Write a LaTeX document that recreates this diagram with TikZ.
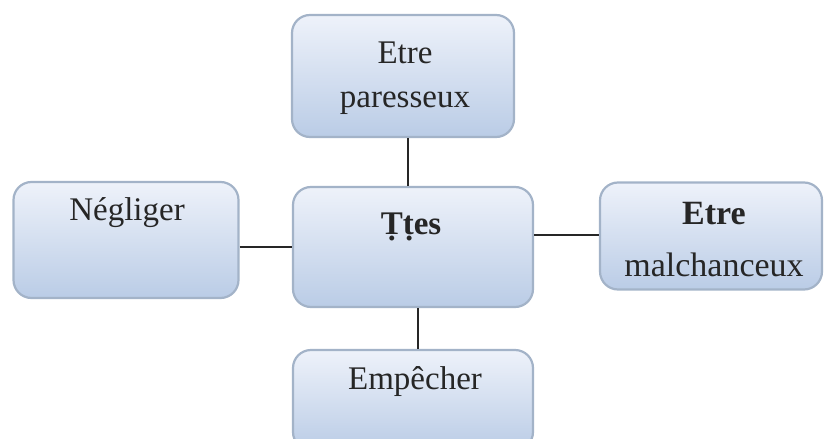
\documentclass[tikz,border=0pt]{standalone}
\usepackage{fontspec}
\setmainfont{Liberation Serif}
\begin{document}
\begin{tikzpicture}[x=1pt,y=-1pt,
  box/.style={draw=boxline, line width=2.2pt, rounded corners=18pt,
    top color=boxtop, bottom color=boxbot, shading angle=0, inner sep=0pt},
  lbl/.style={font=\fontsize{33}{40}\selectfont, align=center, text=black!85},
  conn/.style={draw=black!85, line width=1.6pt}]
\definecolor{boxline}{HTML}{A3B3C8}
\definecolor{boxtop}{HTML}{EEF2FA}
\definecolor{boxbot}{HTML}{BACCE6}
\useasboundingbox (0,0) rectangle (825,439);
\clip (0,0) rectangle (825,439);
% boxes
\node[box, minimum width=222pt, minimum height=122pt] (top) at (403,76) {};
\node[box, minimum width=240pt, minimum height=120pt] (ctr) at (413,247) {};
\node[box, minimum width=225pt, minimum height=116pt] (lft) at (126,240) {};
\node[box, minimum width=222pt, minimum height=107pt] (rgt) at (711,236) {};
\node[box, minimum width=240pt, minimum height=100pt] (bot) at (413,400) {};
% texts
\node[lbl] (ttop) at (405,78) {Etre\\[4pt]paresseux};
\node[lbl] (tctr) at (411,227) {\bfseries Ṭṭes};
\node[lbl] (tlft) at (127,213) {Négliger};
\node[lbl, font=\fontsize{34}{40}\selectfont] (trgt) at (714,240) {\bfseries Etre\\[12pt]malchanceux};
\node[lbl] (tbot) at (415,382) {Empêcher};
% connectors
\coordinate (cx1) at (408,0);
\coordinate (cy1) at (0,247);
\coordinate (cy2) at (0,235);
\coordinate (cx2) at (418,0);
\draw[conn] (top.south -| cx1) -- (ctr.north -| cx1);
\draw[conn] (lft.east |- cy1) -- (ctr.west |- cy1);
\draw[conn] (ctr.east |- cy2) -- (rgt.west |- cy2);
\draw[conn] (ctr.south -| cx2) -- (bot.north -| cx2);
\end{tikzpicture}
\end{document}
